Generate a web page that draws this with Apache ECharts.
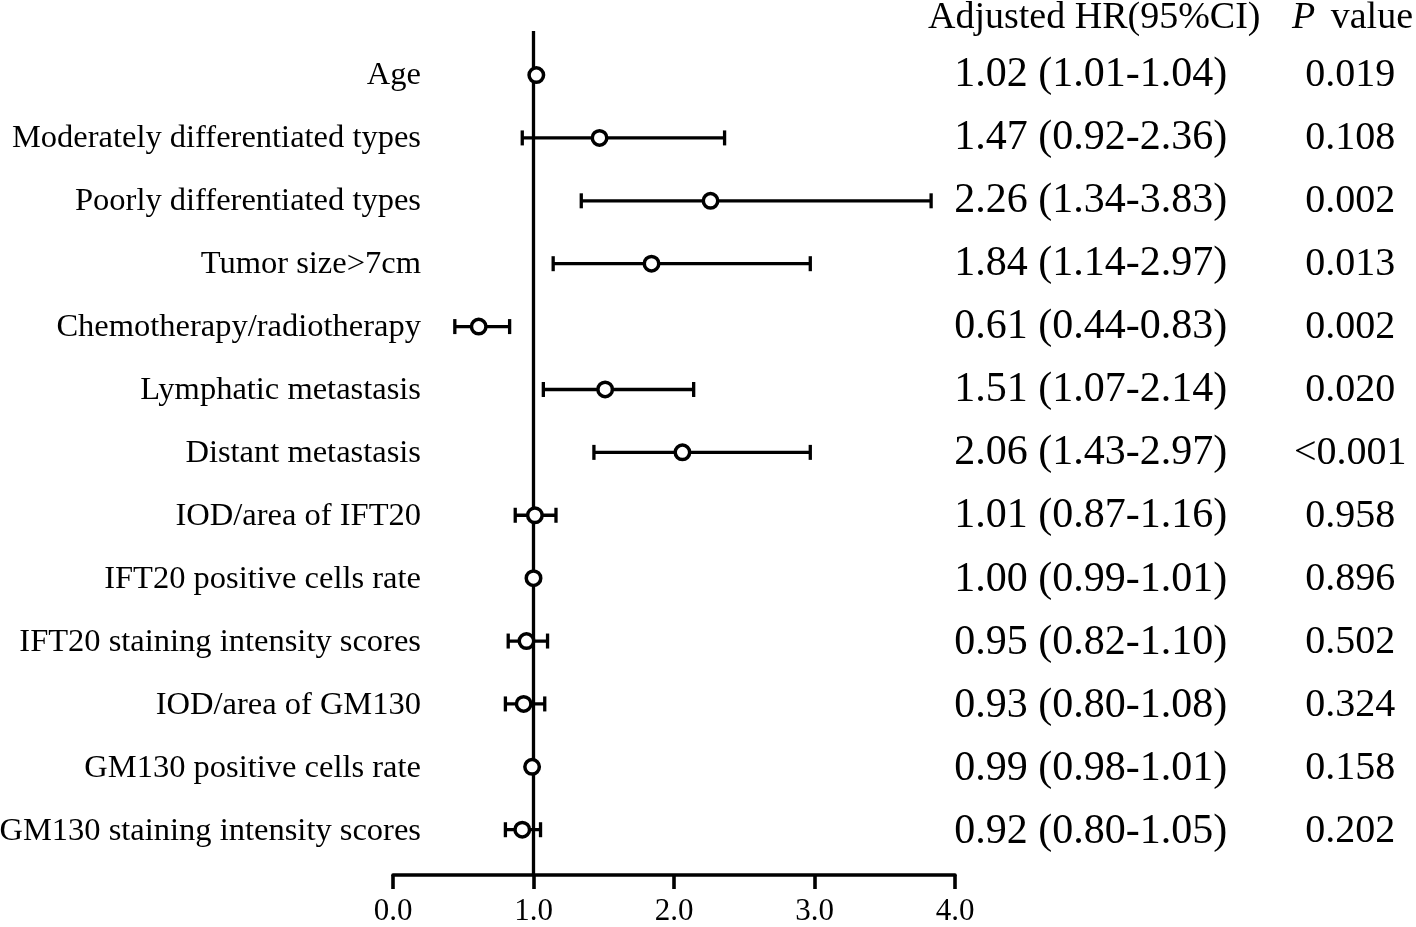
<!DOCTYPE html>
<html>
<head>
<meta charset="utf-8">
<script src="https://cdn.jsdelivr.net/npm/echarts@6/dist/echarts.min.js"></script>
<style>
html,body{margin:0;padding:0;background:#fff;}
#chart{width:1416px;height:927px;}
</style>
</head>
<body>
<div id="chart"></div>
<script>
var categories = [
  'Age',
  'Moderately differentiated types',
  'Poorly differentiated types',
  'Tumor size>7cm',
  'Chemotherapy/radiotherapy',
  'Lymphatic metastasis',
  'Distant metastasis',
  'IOD/area of IFT20',
  'IFT20 positive cells rate',
  'IFT20 staining intensity scores',
  'IOD/area of GM130',
  'GM130 positive cells rate',
  'GM130 staining intensity scores'
];
var hr    = [1.02, 1.47, 2.26, 1.84, 0.61, 1.51, 2.06, 1.01, 1.00, 0.95, 0.93, 0.99, 0.92];
var lower = [1.01, 0.92, 1.34, 1.14, 0.44, 1.07, 1.43, 0.87, 0.99, 0.82, 0.80, 0.98, 0.80];
var upper = [1.04, 2.36, 3.83, 2.97, 0.83, 2.14, 2.97, 1.16, 1.01, 1.10, 1.08, 1.01, 1.05];
var pValues = ['0.019', '0.108', '0.002', '0.013', '0.002', '0.020', '<0.001', '0.958', '0.896', '0.502', '0.324', '0.158', '0.202'];
var xTicks = [0, 1, 2, 3, 4];
var refValue = 1;

var hrText = hr.map(function (v, i) {
  return v.toFixed(2) + ' (' + lower[i].toFixed(2) + '-' + upper[i].toFixed(2) + ')';
});

var SERIF = '"Liberation Serif", "Times New Roman", serif';
var yMin = -0.7, yMax = 12.75;
var LW = 3.3;

var chart = echarts.init(document.getElementById('chart'), null, {renderer: 'canvas'});

var option = {
  backgroundColor: '#ffffff',
  animation: false,
  title: [
    {
      text: 'Adjusted HR(95%CI)',
      left: 928, top: -1, padding: 0,
      textStyle: {fontFamily: SERIF, fontSize: 38, fontWeight: 'normal', color: '#000'}
    },
    {
      text: '{i|P} {n|value}',
      left: 1292, top: -1, padding: 0,
      textStyle: {
        fontFamily: SERIF, fontSize: 38, fontWeight: 'normal', color: '#000',
        rich: {
          i: {fontFamily: SERIF, fontSize: 38, fontStyle: 'italic', color: '#000', padding: [0, 6, 0, 0]},
          n: {fontFamily: SERIF, fontSize: 38, color: '#000'}
        }
      }
    }
  ],
  grid: [
    {left: 393, width: 562, top: 31, height: 846, containLabel: false},
    {left: 428, width: 1, top: 43.6, height: 819.6, containLabel: false}
  ],
  xAxis: [
    {
      gridIndex: 0, type: 'value', min: xTicks[0], max: xTicks[xTicks.length - 1], interval: 1,
      position: 'bottom',
      axisLine: {show: true, onZero: false, lineStyle: {color: '#000', width: 3.6}},
      axisTick: {show: true, inside: false, length: 14, lineStyle: {color: '#000', width: 3.6}},
      axisLabel: {
        show: true, margin: 21, fontFamily: SERIF, fontSize: 31, color: '#000',
        formatter: function (v) { return v.toFixed(1); }
      },
      splitLine: {show: false}
    },
    {gridIndex: 1, type: 'value', show: false, min: 0, max: 1}
  ],
  yAxis: [
    {gridIndex: 0, type: 'value', inverse: true, min: yMin, max: 12.72, show: false},
    {
      gridIndex: 1, type: 'category', inverse: true, data: categories, position: 'left',
      axisLine: {show: false}, axisTick: {show: false}, splitLine: {show: false},
      axisLabel: {show: true, margin: 8, fontFamily: SERIF, fontSize: 32.5, color: '#000', interval: 0}
    },
    {
      gridIndex: 1, type: 'category', inverse: true, data: hrText, position: 'right',
      axisLine: {show: false}, axisTick: {show: false}, splitLine: {show: false},
      axisLabel: {show: true, margin: 525, align: 'left', fontFamily: SERIF, fontSize: 42, color: '#000', interval: 0}
    },
    {
      gridIndex: 1, type: 'category', inverse: true, data: pValues, position: 'right',
      axisLine: {show: false}, axisTick: {show: false}, splitLine: {show: false},
      axisLabel: {show: true, margin: 921, align: 'center', fontFamily: SERIF, fontSize: 40, color: '#000', interval: 0}
    }
  ],
  series: [
    {
      type: 'line', xAxisIndex: 0, yAxisIndex: 0, symbol: 'none', silent: true,
      data: [[refValue, yMin], [refValue, 12.72]],
      lineStyle: {color: '#000', width: LW}, z: 1
    },
    {
      type: 'custom', xAxisIndex: 0, yAxisIndex: 0, z: 2,
      data: categories.map(function (c, i) { return [i, lower[i], upper[i]]; }),
      encode: {x: [1, 2], y: 0},
      renderItem: function (params, api) {
        var i = api.value(0);
        var pL = api.coord([api.value(1), i]);
        var pH = api.coord([api.value(2), i]);
        var h = 7.5;
        var st = {stroke: '#000', lineWidth: LW};
        return {
          type: 'group',
          children: [
            {type: 'line', shape: {x1: pL[0], y1: pL[1], x2: pH[0], y2: pH[1]}, style: st},
            {type: 'line', shape: {x1: pL[0], y1: pL[1] - h, x2: pL[0], y2: pL[1] + h}, style: st},
            {type: 'line', shape: {x1: pH[0], y1: pH[1] - h, x2: pH[0], y2: pH[1] + h}, style: st}
          ]
        };
      }
    },
    {
      type: 'scatter', xAxisIndex: 0, yAxisIndex: 0, z: 3,
      data: hr.map(function (v, i) { return [v, i]; }),
      symbol: 'circle', symbolSize: 14.5,
      itemStyle: {color: '#fff', borderColor: '#000', borderWidth: 3.5, opacity: 1},
      emphasis: {disabled: true}
    },
    {
      type: 'scatter', xAxisIndex: 1, yAxisIndex: 1, data: [], silent: true
    }
  ]
};
chart.setOption(option);
</script>
</body>
</html>
